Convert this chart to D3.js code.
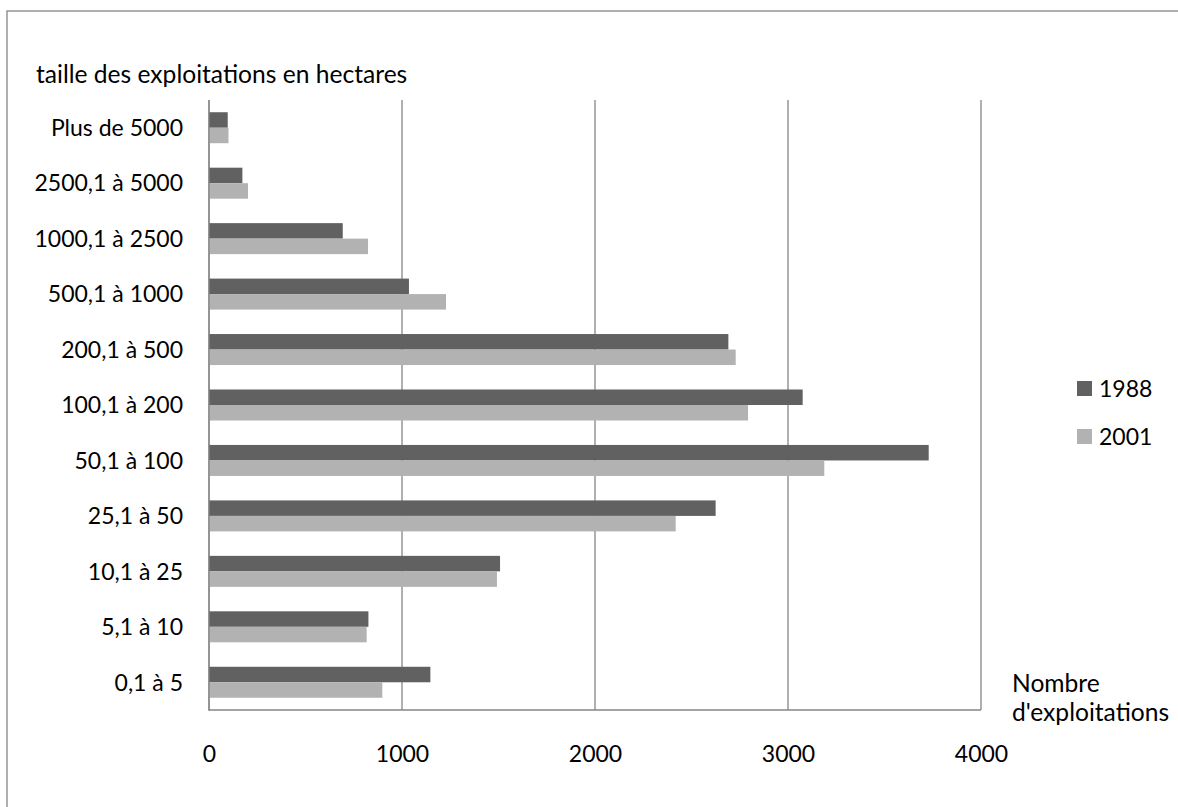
<!DOCTYPE html>
<html>
<head>
<meta charset="utf-8">
<script src="https://cdn.jsdelivr.net/npm/d3@7"></script>
<style>
  html, body { margin: 0; padding: 0; background: #fff; }
  svg { display: block; }
  text { font-family: Lato, "Open Sans", sans-serif; fill: #000; }
</style>
</head>
<body>
<svg id="chart" width="1178" height="807"></svg>
<script>
const categories = ["Plus de 5000", "2500,1 à 5000", "1000,1 à 2500", "500,1 à 1000", "200,1 à 500",
  "100,1 à 200", "50,1 à 100", "25,1 à 50", "10,1 à 25", "5,1 à 10", "0,1 à 5"];
const series = ["1988", "2001"];
const values1988 = [97, 173, 693, 1036, 2691, 3076, 3729, 2625, 1508, 826, 1147];
const values2001 = [101, 202, 824, 1228, 2729, 2793, 3188, 2418, 1492, 817, 898];
const xTicks = [0, 1000, 2000, 3000, 4000];
const yAxisTitle = "taille des exploitations en hectares";
const xAxisTitle = ["Nombre", "d'exploitations"];

const colors = { "1988": "#616161", "2001": "#b2b2b2" };
const gridColor = "#868686";
const fontSize = 23;
const titleFontSize = 24.6;

const svg = d3.select("#chart");

// outer chart border (extends beyond bottom/right of the picture)
svg.append("rect")
  .attr("x", 7).attr("y", 11).attr("width", 1200).attr("height", 820)
  .attr("fill", "none").attr("stroke", gridColor).attr("stroke-width", 1.3);

const plot = { left: 209, right: 981, top: 100, bottom: 710 };

const x = d3.scaleLinear().domain([0, 4000]).range([plot.left, plot.right]);
const y = d3.scaleBand().domain(categories).range([plot.top, plot.bottom]).padding(0);
const barH = 15.5;

// gridlines
svg.append("g").selectAll("line")
  .data(xTicks)
  .join("line")
  .attr("x1", d => x(d)).attr("x2", d => x(d))
  .attr("y1", plot.top).attr("y2", plot.bottom)
  .attr("stroke", gridColor).attr("stroke-width", 1.3);

// bars
const rows = categories.map((c, i) => ({ cat: c, v1988: values1988[i], v2001: values2001[i] }));
const gBars = svg.append("g");
gBars.selectAll("rect.b1988")
  .data(rows).join("rect")
  .attr("class", "b1988")
  .attr("x", x(0))
  .attr("y", d => y(d.cat) + y.bandwidth() / 2 - barH)
  .attr("width", d => x(d.v1988) - x(0))
  .attr("height", barH)
  .attr("fill", colors["1988"]);
gBars.selectAll("rect.b2001")
  .data(rows).join("rect")
  .attr("class", "b2001")
  .attr("x", x(0))
  .attr("y", d => y(d.cat) + y.bandwidth() / 2)
  .attr("width", d => x(d.v2001) - x(0))
  .attr("height", barH)
  .attr("fill", colors["2001"]);

// axis lines
svg.append("line")
  .attr("x1", plot.left).attr("x2", plot.left)
  .attr("y1", plot.top).attr("y2", plot.bottom + 1)
  .attr("stroke", gridColor).attr("stroke-width", 1.3);
svg.append("line")
  .attr("x1", plot.left).attr("x2", plot.right)
  .attr("y1", plot.bottom).attr("y2", plot.bottom)
  .attr("stroke", gridColor).attr("stroke-width", 1.3);

// x axis tick labels via d3 axis
const xAxis = d3.axisBottom(x).tickValues(xTicks).tickSize(0).tickPadding(0).tickFormat(d3.format("d"));
const gx = svg.append("g").call(xAxis);
gx.select(".domain").remove();
gx.selectAll("text")
  .attr("y", 762).attr("dy", null)
  .style("font-family", "Lato, 'Open Sans', sans-serif")
  .style("font-size", fontSize + "px").attr("fill", "#000");

// y axis category labels via d3 axis
const yAxis = d3.axisLeft(y).tickSize(0).tickPadding(0);
const gy = svg.append("g").attr("transform", `translate(183, 0)`).call(yAxis);
gy.select(".domain").remove();
gy.selectAll("text")
  .attr("x", 0).attr("dy", "0.36em")
  .attr("text-anchor", "end")
  .style("font-family", "Lato, 'Open Sans', sans-serif")
  .style("font-size", fontSize + "px").attr("fill", "#000");

// y axis title
svg.append("text")
  .attr("x", 36).attr("y", 83)
  .style("font-size", titleFontSize + "px")
  .text(yAxisTitle);

// x axis title
svg.append("text")
  .attr("x", 1012).attr("y", 692)
  .style("font-size", titleFontSize + "px")
  .text(xAxisTitle[0]);
svg.append("text")
  .attr("x", 1012).attr("y", 721)
  .style("font-size", titleFontSize + "px")
  .text(xAxisTitle[1]);

// legend
const legendY = [388.5, 436.5];
const lg = svg.append("g").selectAll("g").data(series).join("g")
  .attr("transform", (d, i) => `translate(1077, ${legendY[i]})`);
lg.append("rect")
  .attr("x", 0).attr("y", -7.5).attr("width", 15).attr("height", 15)
  .attr("fill", d => colors[d]);
lg.append("text")
  .attr("x", 22).attr("y", 8.5)
  .style("font-size", fontSize + "px")
  .text(d => d);
</script>
</body>
</html>
